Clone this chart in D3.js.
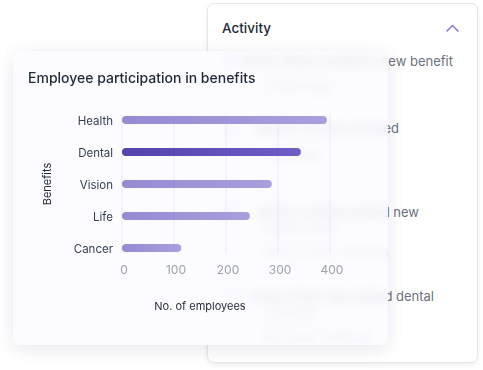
<!DOCTYPE html>
<html>
<head>
<meta charset="utf-8">
<script src="https://cdn.jsdelivr.net/npm/d3@7"></script>
<style>
  html, body { margin: 0; padding: 0; }
  body { width: 483px; height: 370px; position: relative; overflow: hidden; background: #fff; font-family: Inter, "Noto Sans", sans-serif; }
  .back { position: absolute; left: 207px; top: 3px; width: 271px; height: 360px; border: 1px solid #e5e7eb; border-radius: 7px; background: #fff; box-shadow: 0 2px 5px rgba(0,0,0,0.07); box-sizing: border-box; }
  .front { position: absolute; left: 13px; top: 51px; width: 375px; height: 294px; border-radius: 8px; background: rgba(251,250,255,0.8); backdrop-filter: blur(6px); -webkit-backdrop-filter: blur(6px); box-shadow: 0 4px 18px rgba(30,20,80,0.10); }
  svg.layer { position: absolute; left: 0; top: 0; }
</style>
</head>
<body>
<div class="back"></div>
<svg class="layer" id="backsvg" width="483" height="370"></svg>
<div class="front"></div>
<svg class="layer" id="chart" width="483" height="370"></svg>
<script>
// chart data
const categories = ['Health', 'Dental', 'Vision', 'Life', 'Cancer'];
const employees = [394, 344, 288, 246, 114];
const xTicks = [0, 100, 200, 300, 400];
const highlighted = 'Dental';

// activity feed behind the chart card
const activityLines = [
  'Jenny Wilson added a new benefit',
  'Robert Fox has enrolled',
  'Esther Howard added new',
  'Cody Fisher has added dental'
];
const activityLineEnds = [453, 399, 419, 434];
const activitySub = ['2 hours ago', 'Yesterday', 'benefit plans', 'coverage'];
const activityTimes = ['', '', 'Mon, 12 Jun · 9:40 am', 'Fri, 9 Jun · 4:15 pm'];

const back = d3.select('#backsvg');

back.append('text')
  .attr('x', 222).attr('y', 33)
  .style('font-size', '13.5px').style('font-weight', 500)
  .style('fill', '#1f2937')
  .text('Activity');

back.append('path')
  .attr('d', 'M447,31 L452.5,25.5 L458,31')
  .style('fill', 'none')
  .style('stroke', '#7c6fd0')
  .style('stroke-width', 1.4)
  .style('stroke-linecap', 'round');

const rowY = [66, 133, 217, 301];

const rows = back.selectAll('g.row')
  .data(activityLines)
  .enter().append('g')
  .attr('class', 'row');

rows.append('circle')
  .attr('cx', 231).attr('cy', (d, i) => rowY[i] - 4)
  .attr('r', 9)
  .style('fill', '#efecfb');

rows.append('text')
  .attr('x', (d, i) => activityLineEnds[i])
  .attr('y', (d, i) => rowY[i])
  .attr('text-anchor', 'end')
  .style('font-size', '13px')
  .style('fill', '#6b7280')
  .text(d => d);

rows.append('text')
  .attr('x', 263)
  .attr('y', (d, i) => rowY[i] + (i < 2 ? 25 : 16))
  .style('font-size', '12px')
  .style('fill', '#9ca3af')
  .text((d, i) => activitySub[i]);

rows.append('text')
  .attr('x', 263)
  .attr('y', (d, i) => rowY[i] + 40)
  .style('font-size', '12px')
  .style('fill', '#9ca3af')
  .text((d, i) => activityTimes[i]);

// chart
const svg = d3.select('#chart');

const x = d3.scaleLinear()
  .domain([0, 400])
  .range([122, 330]);

const y = d3.scalePoint()
  .domain(categories)
  .range([120, 248]);

const barH = 8;

const defs = svg.append('defs');
const light = defs.append('linearGradient').attr('id', 'gLight');
light.append('stop').attr('offset', '0%').attr('stop-color', '#968ad2');
light.append('stop').attr('offset', '100%').attr('stop-color', '#a99fde');
const dark = defs.append('linearGradient').attr('id', 'gDark');
dark.append('stop').attr('offset', '0%').attr('stop-color', '#5643ae');
dark.append('stop').attr('offset', '100%').attr('stop-color', '#6e5ec6');

svg.append('text')
  .attr('x', 28).attr('y', 83)
  .style('font-size', '14px').style('font-weight', 500)
  .style('fill', '#1f2937')
  .text('Employee participation in benefits');

// gridlines
svg.append('g')
  .selectAll('line')
  .data(xTicks)
  .enter().append('line')
    .attr('x1', d => x(d)).attr('x2', d => x(d))
    .attr('y1', 114).attr('y2', 253)
    .style('stroke', '#eceaf3')
    .style('stroke-width', 1);

// bars
svg.append('g')
  .selectAll('rect')
  .data(categories)
  .enter().append('rect')
    .attr('x', x(0))
    .attr('y', d => y(d) - barH / 2)
    .attr('width', (d, i) => x(employees[i]) - x(0))
    .attr('height', barH)
    .attr('rx', barH / 2)
    .style('fill', d => d === highlighted ? 'url(#gDark)' : 'url(#gLight)');

// category labels
svg.append('g')
  .selectAll('text')
  .data(categories)
  .enter().append('text')
    .attr('x', 113)
    .attr('y', d => y(d) + 5)
    .attr('text-anchor', 'end')
    .style('font-size', '11.5px')
    .style('fill', '#374151')
    .text(d => d);

// x tick labels
svg.append('g')
  .selectAll('text')
  .data(xTicks)
  .enter().append('text')
    .attr('x', d => x(d) + 2)
    .attr('y', 274)
    .attr('text-anchor', 'middle')
    .style('font-size', '12px')
    .style('fill', '#9ca3af')
    .text(d => d);

svg.append('text')
  .attr('x', 200).attr('y', 310)
  .attr('text-anchor', 'middle')
  .style('font-size', '11px')
  .style('fill', '#1f2937')
  .text('No. of employees');

svg.append('text')
  .attr('transform', 'translate(51,184) rotate(-90)')
  .attr('text-anchor', 'middle')
  .style('font-size', '11px')
  .style('fill', '#1f2937')
  .text('Benefits');
</script>
</body>
</html>
